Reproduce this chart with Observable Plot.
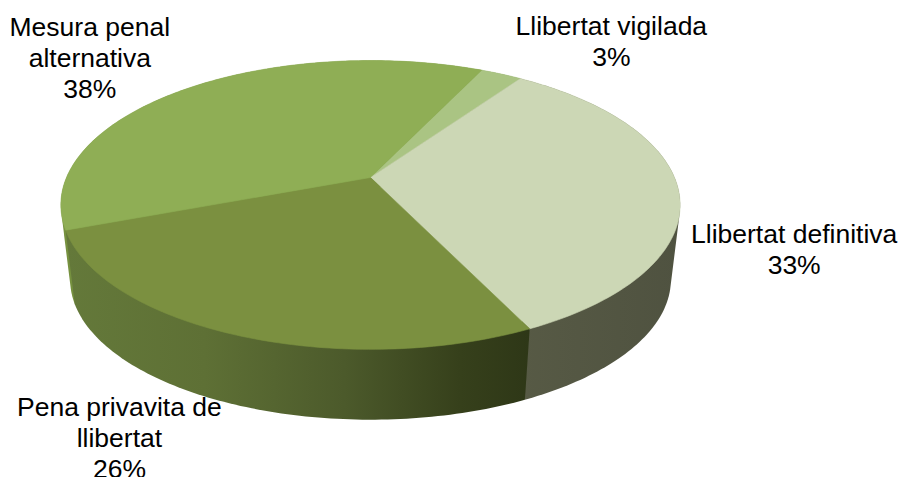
<!DOCTYPE html>
<html><head><meta charset="utf-8">
<script src="https://cdn.jsdelivr.net/npm/d3@7"></script>
<script src="https://cdn.jsdelivr.net/npm/@observablehq/plot@0.6"></script>
<style>html,body{margin:0;padding:0;background:#fff}svg{display:block}</style>
</head><body><div id="chart"></div>
<script>
// Data, clockwise from the first slice (slice sizes; labels show them rounded)
const categories = ["Llibertat vigilada", "Llibertat definitiva", "Pena privavita de\nllibertat", "Mesura penal\nalternativa"];
const values = [2.6, 33.2, 26.4, 37.8];
const topColors = ["#aac483", "#ccd7b5", "#7b9040", "#8fae55"];
const sideFills = ["#7f9360", "url(#sideDefinitiva)", "url(#sidePena)", "#76913f"];
const startAngle = 25.4;

// Perspective projection of the pie disc onto the page
const W = 899, H = 477;
const k = 0.19, a = 304, b = 139.2, cx = 370;
const topFace = {cy: 177, s: 1}, bottomFace = {cy: 252.5, s: 0.97};
const project = (deg, f, r = 1) => {
  const t = deg * Math.PI / 180, u = r * Math.sin(t), v = r * Math.cos(t), w = 1 + k * v;
  return {x: cx + f.s * a * u / w, y: f.cy - f.s * b * v / w};
};

let acc = startAngle;
const slices = values.map((v, i) => {
  const t0 = acc, t1 = acc + v * 3.6; acc = t1;
  const ts = d3.range(t0, t1, 1).concat(t1);
  const rim = [...ts.map(t => project(t, topFace)), ...ts.map(t => project(t, bottomFace))];
  const hull = d3.polygonHull(rim.map(p => [p.x, p.y])).map(([x, y]) => ({x, y}));
  return {
    i, t0, t1, mid: (t0 + t1) / 2,
    top: [project(0, topFace, 0), ...ts.map(t => project(t, topFace))],
    side: hull
  };
});

// Label placement relative to the slice's rim point
const labelOffsets = [[110, -33], [116, 60], [-114, 103], [-100, -31]];
const labelData = slices.map((s, i) => {
  const p = project(s.mid, topFace);
  return {...p, text: `${categories[i]}\n${Math.round(values[i])}%`, i};
});

const gradient = (id, stops) =>
  `<linearGradient id="${id}" x1="0" x2="1" y1="0" y2="0">` +
  stops.map(([o, c]) => `<stop offset="${o}" stop-color="${c}"/>`).join("") + `</linearGradient>`;

const defs = () => {
  const g = document.createElementNS("http://www.w3.org/2000/svg", "defs");
  g.innerHTML =
    gradient("sidePena", [[0, "#64793a"], [0.3, "#5e7035"], [0.6, "#4c5a2b"], [0.85, "#36401b"], [1, "#2e3717"]]) +
    gradient("sideDefinitiva", [[0, "#575a45"], [1, "#4f5240"]]);
  return g;
};

const order = [0, 3, 1, 2]; // back to front
const chart = Plot.plot({
  width: W, height: H, margin: 0,
  x: {domain: [0, W], range: [0, W], axis: null},
  y: {domain: [0, H], range: [0, H], axis: null},
  style: {background: "#fff"},
  marks: [
    defs,
    ...order.map(i => Plot.line(slices[i].side.concat(slices[i].side[0]), {x: "x", y: "y", fill: sideFills[i], stroke: "none", curve: "linear"})),
    ...slices.map((s, i) => Plot.line(s.top, {x: "x", y: "y", fill: topColors[i], stroke: topColors[i], strokeWidth: 0.6, curve: "linear"})),
    ...labelData.map((d, i) => Plot.text([d], {
      x: "x", y: "y", text: "text", dx: labelOffsets[i][0], dy: labelOffsets[i][1],
      fontSize: 26.5, lineHeight: 1.17, fill: "#000", textAnchor: "middle",
      fontFamily: "Liberation Sans, Arial, sans-serif"
    }))
  ]
});
document.getElementById("chart").append(chart);
</script></body></html>
